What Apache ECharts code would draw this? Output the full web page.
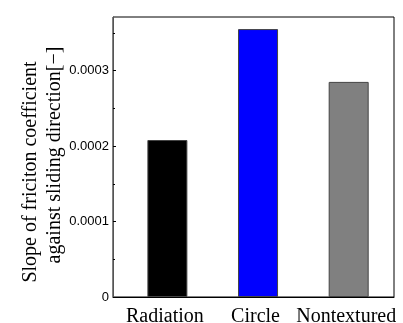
<!DOCTYPE html>
<html>
<head>
<meta charset="utf-8">
<script src="https://cdn.jsdelivr.net/npm/echarts@6/dist/echarts.min.js"></script>
<style>html,body{margin:0;padding:0;background:#fff}#c{width:403px;height:323px}</style>
</head>
<body>
<div id="c"></div>
<script>
var categories = ['Radiation', 'Circle', 'Nontextured'];
var positions = [1, 2, 3];
var slopeValues = [0.000208, 0.000355, 0.000285];
var barColors = ['#000000', '#0000ff', '#808080'];
var yMajorTicks = [0, 0.0001, 0.0002, 0.0003];
var yMinorTicks = [0.00005, 0.00015, 0.00025, 0.00035];
var yLabelLines = ['Slope of friciton coefficient', 'against sliding direction[\u2212]'];

var chart = echarts.init(document.getElementById('c'), null, {renderer: 'canvas'});
var serif = '"Liberation Serif", "Times New Roman", serif';
var sans = '"Liberation Sans", Arial, sans-serif';

var barData = positions.map(function (p, i) {
  return {value: [p, slopeValues[i]], itemStyle: {color: barColors[i]}};
});

chart.setOption({
  animation: false,
  grid: {left: 113, right: 9, top: 17, bottom: 26, containLabel: false, outerBoundsMode: 'none',
         show: true, borderColor: '#000', borderWidth: 1, backgroundColor: 'transparent'},
  xAxis: {
    type: 'value', min: 0.4, max: 3.5,
    splitLine: {show: false},
    axisLine: {show: true, onZero: false, lineStyle: {color: '#000', width: 1}},
    axisTick: {show: false},
    axisLabel: {
      customValues: positions,
      formatter: function (v) { return categories[Math.round(v) - 1]; },
      fontFamily: serif, fontSize: 20, color: '#000', margin: 10,
      padding: [0, 5, 0, 0]
    }
  },
  yAxis: [{
    type: 'value', min: 0, max: 0.000371,
    splitLine: {show: false},
    axisLine: {show: true, lineStyle: {color: '#555', width: 1}},
    axisTick: {show: true, inside: true, length: 3, customValues: yMajorTicks, lineStyle: {color: '#000'}},
    axisLabel: {
      customValues: yMajorTicks,
      formatter: function (v) { return v === 0 ? '0' : v.toFixed(4); },
      fontFamily: sans, fontSize: 13, color: '#000', margin: 4
    }
  }, {
    type: 'value', min: 0, max: 0.000371, position: 'left',
    splitLine: {show: false},
    axisLine: {show: false},
    axisLabel: {show: false},
    axisTick: {show: true, inside: true, length: 2, customValues: yMinorTicks, lineStyle: {color: '#000'}}
  }],
  series: [{
    type: 'bar', yAxisIndex: 0, data: barData, barWidth: 40,
    itemStyle: {borderColor: '#444', borderWidth: 1}
  }],
  graphic: [{
    type: 'text', x: 31, y: 172, rotation: Math.PI / 2,
    style: {text: yLabelLines[0], font: '20px ' + serif, fill: '#000', align: 'center', verticalAlign: 'middle'}
  }, {
    type: 'text', x: 55, y: 155, rotation: Math.PI / 2,
    style: {text: yLabelLines[1], font: '20px ' + serif, fill: '#000', align: 'center', verticalAlign: 'middle'}
  }]
});
</script>
</body>
</html>
